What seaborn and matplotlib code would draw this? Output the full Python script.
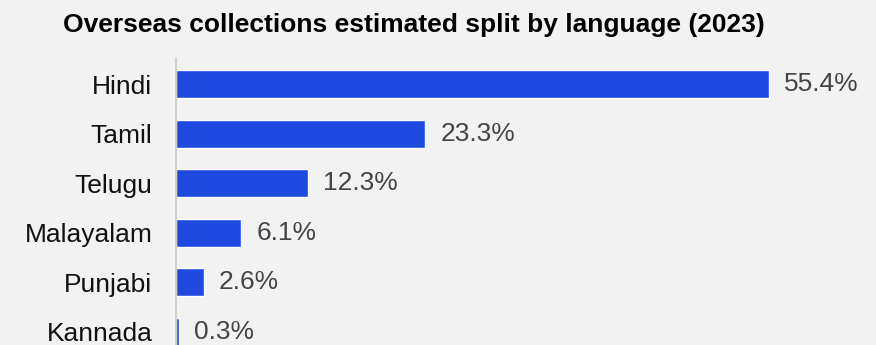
import pandas as pd
import matplotlib.pyplot as plt
import seaborn as sns

languages = ["Hindi", "Tamil", "Telugu", "Malayalam", "Punjabi", "Kannada"]
shares = [55.4, 23.3, 12.3, 6.1, 2.6, 0.3]
value_labels = ["55.4%", "23.3%", "12.3%", "6.1%", "2.6%", "0.3%"]

df = pd.DataFrame({"language": languages, "share": shares})

sns.set_style("white")
plt.rcParams["font.family"] = ["Liberation Sans", "DejaVu Sans"]

bg = "#f2f2f2"
fig = plt.figure(figsize=(8.76, 3.45), dpi=100, facecolor=bg)
# axes runs past the bottom edge, the last bar is cut off like in the original
ax = fig.add_axes([176 / 876, -0.0342, 700 / 876, 0.8626])
ax.set_facecolor(bg)

sns.barplot(data=df, y="language", x="share", orient="h", color="#1f4ae0",
            width=0.565, saturation=1, ax=ax)

ax.set_xlim(0, 700 / 10.70)
ax.set_ylim(5.5, -0.5)
ax.set_xlabel("")
ax.set_ylabel("")
ax.set_xticks([])
ax.tick_params(axis="y", length=0, pad=17, labelsize=19, labelcolor="#111111")

for s in ["top", "right", "bottom"]:
    ax.spines[s].set_visible(False)
ax.spines["left"].set_color("#cfcfcf")
ax.spines["left"].set_linewidth(1.5)

for i, (v, lab) in enumerate(zip(shares, value_labels)):
    ax.annotate(lab, (v, i), xytext=(11, 0), textcoords="offset points",
                va="center", ha="left", fontsize=19, color="#444444")

fig.text(413.5 / 876, 1 - 25 / 345, "Overseas collections estimated split by language (2023)",
         ha="center", va="center", fontsize=19, fontweight="bold", color="#000000")

fig.savefig("out.png", dpi=100, facecolor=bg)
